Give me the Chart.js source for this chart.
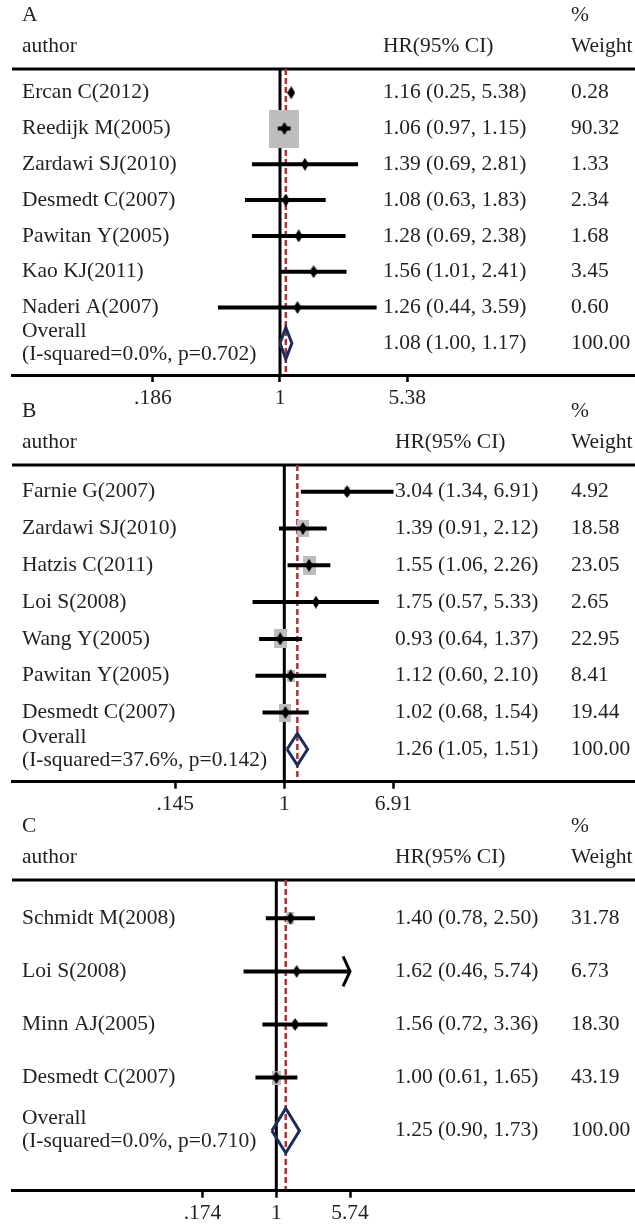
<!DOCTYPE html>
<html>
<head>
<meta charset="utf-8">
<script src="https://cdn.jsdelivr.net/npm/chart.js@4.4.1/dist/chart.umd.min.js"></script>
<style>
  html, body { margin: 0; padding: 0; background: #fff; overflow: hidden; }
  #wrap { position: relative; width: 635px; height: 1226px; overflow: hidden; }
  .panel { position: absolute; left: 0; width: 635px; }
  canvas { display: block; }
</style>
</head>
<body>
<div id="wrap">
  <div class="panel" style="top:0;height:412px"><canvas id="chartA"></canvas></div>
  <div class="panel" style="top:396px;height:422px"><canvas id="chartB"></canvas></div>
  <div class="panel" style="top:810px;height:416px"><canvas id="chartC"></canvas></div>
</div>
<script>
// ---- panel A ----
const authorsA = ['Ercan C(2012)', 'Reedijk M(2005)', 'Zardawi SJ(2010)', 'Desmedt C(2007)', 'Pawitan Y(2005)', 'Kao KJ(2011)', 'Naderi A(2007)'];
const hrA = [1.16, 1.06, 1.39, 1.08, 1.28, 1.56, 1.26];
const lowA = [0.25, 0.97, 0.69, 0.63, 0.69, 1.01, 0.44];
const highA = [5.38, 1.15, 2.81, 1.83, 2.38, 2.41, 3.59];
const weightA = [0.28, 90.32, 1.33, 2.34, 1.68, 3.45, 0.60];
const ciShownA = [false, true, true, true, true, true, true];
const overallA = [1.08, 1.00, 1.17];
const hetA = '(I-squared=0.0%, p=0.702)';
const ticksA = [0.186, 1, 5.38];
const tickLabelsA = ['.186', '1', '5.38'];

// ---- panel B ----
const authorsB = ['Farnie G(2007)', 'Zardawi SJ(2010)', 'Hatzis C(2011)', 'Loi S(2008)', 'Wang Y(2005)', 'Pawitan Y(2005)', 'Desmedt C(2007)'];
const hrB = [3.04, 1.39, 1.55, 1.75, 0.93, 1.12, 1.02];
const lowB = [1.34, 0.91, 1.06, 0.57, 0.64, 0.60, 0.68];
const highB = [6.91, 2.12, 2.26, 5.33, 1.37, 2.10, 1.54];
const weightB = [4.92, 18.58, 23.05, 2.65, 22.95, 8.41, 19.44];
const overallB = [1.26, 1.05, 1.51];
const hetB = '(I-squared=37.6%, p=0.142)';
const ticksB = [0.145, 1, 6.91];
const tickLabelsB = ['.145', '1', '6.91'];

// ---- panel C ----
const authorsC = ['Schmidt M(2008)', 'Loi S(2008)', 'Minn AJ(2005)', 'Desmedt C(2007)'];
const hrC = [1.40, 1.62, 1.56, 1.00];
const lowC = [0.78, 0.46, 0.72, 0.61];
const highC = [2.50, 5.74, 3.36, 1.65];
const weightC = [31.78, 6.73, 18.30, 43.19];
const arrowC = [false, true, false, false];
const overallC = [1.25, 0.90, 1.73];
const hetC = '(I-squared=0.0%, p=0.710)';
const ticksC = [0.174, 1, 5.74];
const tickLabelsC = ['.174', '1', '5.74'];

const FONT = "'Liberation Serif', 'Times New Roman', serif";
const FSIZE = 21.5;
const INK = '#231f20';
const NAVY = '#1c2d5c';
const RED = '#a3363c';
const GREY = '#bdbdbd';
const AXIS_H = 34;

function diamondMark(w, h) {
  const c = document.createElement('canvas');
  c.width = w; c.height = h;
  const g = c.getContext('2d');
  g.fillStyle = '#000';
  g.beginPath();
  g.moveTo(w / 2, 0); g.lineTo(w, h / 2); g.lineTo(w / 2, h); g.lineTo(0, h / 2);
  g.closePath(); g.fill();
  return c;
}
function boxMark(w, h) {
  const c = document.createElement('canvas');
  c.width = Math.max(1, Math.round(w)); c.height = Math.max(1, Math.round(h));
  const g = c.getContext('2d');
  g.fillStyle = GREY;
  g.fillRect(0, 0, c.width, c.height);
  return c;
}
const fmt = v => v.toFixed(2);

function drawPanel(id, letter, p, L) {
  const n = p.authors.length;
  const canvasH = document.getElementById(id).parentNode.clientHeight;
  const [oe, ol, oh] = p.overall;
  const datasets = [];

  datasets.push({
    data: [{x: ol, y: n}, {x: oe, y: n - L.dh}, {x: oh, y: n}, {x: oe, y: n + L.dh}, {x: ol, y: n}],
    showLine: true, borderColor: NAVY, borderWidth: 3, pointRadius: 0,
    borderJoinStyle: 'miter', order: 0
  });
  datasets.push({
    data: p.hr.map((v, i) => ({x: v, y: i})),
    pointStyle: diamondMark(8, 13), pointRadius: 5, order: 1
  });
  p.low.forEach((lo, i) => {
    if (p.ciShown && !p.ciShown[i]) return;
    datasets.push({
      data: [{x: lo, y: i}, {x: p.high[i], y: i}],
      showLine: true, borderColor: '#000', borderWidth: 4, pointRadius: 0, order: 2
    });
  });
  datasets.push({
    data: p.hr.map((v, i) => ({x: v, y: i})),
    pointStyle: p.weight.map(w => {
      const s = L.boxK * Math.sqrt(w);
      return boxMark(s, s * L.boxRatio);
    }),
    pointRadius: 5, order: 3
  });

  const forest = {
    id: 'forest',
    beforeDatasetsDraw(chart) {
      const {ctx, chartArea: a, scales: {x}} = chart;
      ctx.save();
      ctx.strokeStyle = '#000';
      ctx.lineWidth = 3;
      ctx.beginPath();
      ctx.moveTo(a.left, a.top); ctx.lineTo(chart.width, a.top);
      const x1 = x.getPixelForValue(1);
      ctx.moveTo(x1, a.top); ctx.lineTo(x1, a.bottom);
      ctx.stroke();
      const xo = x.getPixelForValue(oe);
      ctx.strokeStyle = RED;
      ctx.lineWidth = 2.5;
      ctx.setLineDash([6, 3]);
      ctx.beginPath();
      ctx.moveTo(xo, a.top); ctx.lineTo(xo, a.bottom);
      ctx.stroke();
      ctx.restore();
    },
    afterDraw(chart) {
      const {ctx, chartArea: a, scales: {x, y}} = chart;
      ctx.save();
      // the axis line runs on to the right edge of the picture
      const yb = Math.round(a.bottom - 1.5) + 1.5;
      ctx.strokeStyle = '#000';
      ctx.lineWidth = 3;
      ctx.beginPath();
      ctx.moveTo(a.left, yb); ctx.lineTo(chart.width, yb);
      ctx.stroke();
      // arrowheads for truncated intervals
      if (p.arrow) {
        p.arrow.forEach((on, i) => {
          if (!on) return;
          const px = x.getPixelForValue(p.high[i]);
          const py = y.getPixelForValue(i);
          ctx.beginPath();
          ctx.moveTo(px - 7, py - 15); ctx.lineTo(px, py); ctx.lineTo(px - 7, py + 15);
          ctx.stroke();
        });
      }
      ctx.fillStyle = INK;
      ctx.font = FSIZE + 'px ' + FONT;
      ctx.textBaseline = 'middle';
      ctx.textAlign = 'left';
      ctx.fillText(letter, 22, a.top - 54);
      ctx.fillText('%', L.wX, a.top - 54);
      ctx.fillText('author', 22, a.top - 23);
      ctx.fillText('HR(95% CI)', L.hrX, a.top - 23);
      ctx.fillText('Weight', L.wX, a.top - 23);
      p.authors.forEach((name, i) => {
        const py = y.getPixelForValue(i);
        ctx.fillText(name, 22, py);
        ctx.fillText(fmt(p.hr[i]) + ' (' + fmt(p.low[i]) + ', ' + fmt(p.high[i]) + ')', L.hrX, py);
        ctx.fillText(fmt(p.weight[i]), L.wX, py);
      });
      const po = y.getPixelForValue(n);
      ctx.fillText('Overall', 22, po - 12);
      ctx.fillText(p.het, 22, po + 11);
      ctx.fillText(fmt(oe) + ' (' + fmt(ol) + ', ' + fmt(oh) + ')', L.hrX, po);
      ctx.fillText('100.00', L.wX, po);
      ctx.restore();
    }
  };

  const LEFT = 12, RIGHT = 635;
  const chart = new Chart(document.getElementById(id), {
    type: 'scatter',
    data: {datasets},
    plugins: [forest],
    options: {
      responsive: true,
      maintainAspectRatio: false,
      animation: false,
      events: [],
      layout: {padding: {left: LEFT, right: 0, top: L.lineY, bottom: canvasH - L.axisY - AXIS_H}},
      plugins: {legend: {display: false}, tooltip: {enabled: false}},
      scales: {
        x: {
          type: 'logarithmic',
          min: Math.exp((LEFT - L.px1) / L.k),
          max: Math.exp((RIGHT - L.px1) / L.k),
          afterBuildTicks: s => { s.ticks = p.ticks.map(v => ({value: v})); },
          afterFit: s => { s.height = AXIS_H; },
          ticks: {
            callback: (v, i) => p.tickLabels[i],
            autoSkip: false, maxRotation: 0, minRotation: 0, padding: 3,
            color: INK, font: {family: FONT, size: FSIZE}
          },
          grid: {display: true, drawOnChartArea: false, drawTicks: true, tickLength: 7, tickWidth: 2.5, tickColor: '#000', color: '#000'},
          border: {display: true, color: '#000', width: 3}
        },
        y: {
          type: 'linear', reverse: true, display: false,
          min: (L.lineY - L.firstY) / L.step,
          max: (L.axisY - L.firstY) / L.step
        }
      }
    }
  });
  // refine the log range from the plot area actually laid out, so that 1 lands where it should
  const a = chart.chartArea;
  if (Math.abs(a.left - LEFT) > 0.5 || Math.abs(a.right - RIGHT) > 0.5) {
    chart.options.scales.x.min = Math.exp((a.left - L.px1) / L.k);
    chart.options.scales.x.max = Math.exp((a.right - L.px1) / L.k);
    chart.update();
  }
}

drawPanel('chartA', 'A',
  {authors: authorsA, hr: hrA, low: lowA, high: highA, weight: weightA, ciShown: ciShownA,
   overall: overallA, het: hetA, ticks: ticksA, tickLabels: tickLabelsA},
  {lineY: 69, axisY: 375, firstY: 92.7, step: 35.8, px1: 280, k: 75.6, hrX: 383, wX: 571, boxK: 3.2, boxRatio: 1.25, dh: 0.44});

drawPanel('chartB', 'B',
  {authors: authorsB, hr: hrB, low: lowB, high: highB, weight: weightB,
   overall: overallB, het: hetB, ticks: ticksB, tickLabels: tickLabelsB},
  {lineY: 69, axisY: 385.7, firstY: 95.7, step: 36.8, px1: 284.3, k: 56.5, hrX: 395, wX: 571, boxK: 2.7, boxRatio: 1.5, dh: 0.43});

drawPanel('chartC', 'C',
  {authors: authorsC, hr: hrC, low: lowC, high: highC, weight: weightC, arrow: arrowC,
   overall: overallC, het: hetC, ticks: ticksC, tickLabels: tickLabelsC},
  {lineY: 70, axisY: 380.7, firstY: 108.3, step: 53.1, px1: 276.3, k: 42.2, hrX: 395, wX: 571, boxK: 1.35, boxRatio: 1.6, dh: 0.42});
</script>
</body>
</html>
